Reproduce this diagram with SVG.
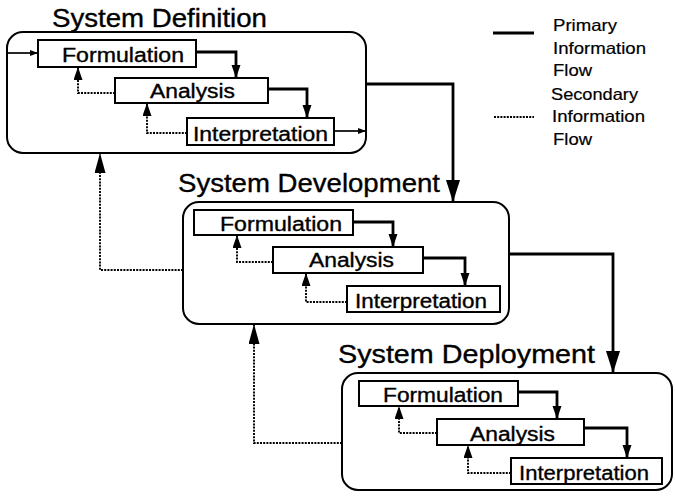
<svg xmlns="http://www.w3.org/2000/svg" width="675" height="497" viewBox="0 0 675 497">
<style>
  text { font-family: "Liberation Sans", Arial, sans-serif; fill: #000; stroke: #000; stroke-width: 0.35; }
  .title { font-size: 25px; }
  .lbl { font-size: 20px; }
  .leg { font-size: 16.5px; stroke-width: 0.2; }
  .panel { fill: none; stroke: #000; stroke-width: 2; }
  .box { fill: #fff; stroke: #000; stroke-width: 2; }
  .prim { fill: none; stroke: #000; stroke-width: 2.8; }
  .thin { fill: none; stroke: #000; stroke-width: 1.7; }
  .sec { fill: none; stroke: #000; stroke-width: 1.9; stroke-dasharray: 2 1.2; }
</style>
<defs>
  <marker id="ah" markerUnits="userSpaceOnUse" markerWidth="14" markerHeight="10" refX="13" refY="4.5" orient="auto">
    <path d="M0,0 L13,4.5 L0,9 z" fill="#000"/>
  </marker>
  <marker id="tiny" markerUnits="userSpaceOnUse" markerWidth="9" markerHeight="7" refX="8" refY="3" orient="auto">
    <path d="M0,0 L8,3 L0,6 z" fill="#000"/>
  </marker>
  <marker id="big" markerUnits="userSpaceOnUse" markerWidth="23" markerHeight="15" refX="22" refY="7" orient="auto">
    <path d="M0,0 L22,7 L0,14 z" fill="#000"/>
  </marker>
  <marker id="bigs" markerUnits="userSpaceOnUse" markerWidth="21" markerHeight="12" refX="20" refY="5.5" orient="auto">
    <path d="M0,0 L20,5.5 L0,11 z" fill="#000"/>
  </marker>
</defs>

<g id="system-definition">
  <rect class="panel" x="7" y="32" width="359" height="121" rx="16"/>
  <text class="title" x="52" y="27" textLength="215" lengthAdjust="spacingAndGlyphs">System Definition</text>
</g>
<g id="def-formulation">
  <rect class="box" x="38" y="40" width="158" height="27"/>
  <text class="lbl" x="62" y="62" textLength="122" lengthAdjust="spacingAndGlyphs">Formulation</text>
</g>
<g id="def-analysis">
  <rect class="box" x="115" y="78" width="153" height="25"/>
  <text class="lbl" x="150" y="98" textLength="85" lengthAdjust="spacingAndGlyphs">Analysis</text>
</g>
<g id="def-interpretation">
  <rect class="box" x="187" y="118" width="147" height="27"/>
  <text class="lbl" x="193" y="141" textLength="135" lengthAdjust="spacingAndGlyphs">Interpretation</text>
</g>

<g id="system-development">
  <rect class="panel" x="183" y="202" width="326" height="122" rx="16"/>
  <text class="title" x="178" y="192" textLength="262" lengthAdjust="spacingAndGlyphs">System Development</text>
</g>
<g id="dev-formulation">
  <rect class="box" x="194" y="210" width="159" height="25"/>
  <text class="lbl" x="220" y="231" textLength="122" lengthAdjust="spacingAndGlyphs">Formulation</text>
</g>
<g id="dev-analysis">
  <rect class="box" x="273" y="247" width="150" height="26"/>
  <text class="lbl" x="309" y="267" textLength="85" lengthAdjust="spacingAndGlyphs">Analysis</text>
</g>
<g id="dev-interpretation">
  <rect class="box" x="347" y="286" width="153" height="26"/>
  <text class="lbl" x="355" y="308" textLength="132" lengthAdjust="spacingAndGlyphs">Interpretation</text>
</g>

<g id="system-deployment">
  <rect class="panel" x="342" y="373" width="330" height="117" rx="16"/>
  <text class="title" x="338" y="363" textLength="257" lengthAdjust="spacingAndGlyphs">System Deployment</text>
</g>
<g id="dep-formulation">
  <rect class="box" x="359" y="381" width="159" height="25"/>
  <text class="lbl" x="383" y="402" textLength="120" lengthAdjust="spacingAndGlyphs">Formulation</text>
</g>
<g id="dep-analysis">
  <rect class="box" x="437" y="419" width="147" height="26"/>
  <text class="lbl" x="470" y="441" textLength="85" lengthAdjust="spacingAndGlyphs">Analysis</text>
</g>
<g id="dep-interpretation">
  <rect class="box" x="511" y="458" width="151" height="26"/>
  <text class="lbl" x="519" y="480" textLength="130" lengthAdjust="spacingAndGlyphs">Interpretation</text>
</g>

<g id="legend">
  <path class="prim" d="M493,33 H534" stroke-width="3.2"/>
  <path class="sec" d="M494,117 H534" stroke-width="1.2"/>
  <text class="leg" x="553" y="31" textLength="64" lengthAdjust="spacingAndGlyphs">Primary</text>
  <text class="leg" x="553" y="54" textLength="93" lengthAdjust="spacingAndGlyphs">Information</text>
  <text class="leg" x="553" y="76" textLength="39" lengthAdjust="spacingAndGlyphs">Flow</text>
  <text class="leg" x="551" y="100" textLength="87" lengthAdjust="spacingAndGlyphs">Secondary</text>
  <text class="leg" x="552" y="122" textLength="93" lengthAdjust="spacingAndGlyphs">Information</text>
  <text class="leg" x="553" y="145" textLength="39" lengthAdjust="spacingAndGlyphs">Flow</text>
</g>

<g id="connectors">
  <path class="thin" d="M7,53 H38" marker-end="url(#tiny)"/>
  <path class="prim" d="M196,52 H236 V78" marker-end="url(#ah)"/>
  <path class="prim" d="M268,89 H307 V118" marker-end="url(#ah)"/>
  <path class="thin" d="M334,131 H366" marker-end="url(#tiny)"/>
  <path class="sec" d="M115,93 H78 V67" marker-end="url(#ah)"/>
  <path class="sec" d="M187,133 H147 V103" marker-end="url(#ah)"/>
  <path class="prim" d="M366,84 H453 V202" marker-end="url(#big)"/>
  <path class="prim" d="M353,222 H393 V247" marker-end="url(#ah)"/>
  <path class="prim" d="M423,258 H465 V286" marker-end="url(#ah)"/>
  <path class="sec" d="M273,262 H237 V235" marker-end="url(#ah)"/>
  <path class="sec" d="M347,302 H306 V273" marker-end="url(#ah)"/>
  <path class="prim" d="M509,254 H613 V373" marker-end="url(#big)"/>
  <path class="prim" d="M518,392 H557 V419" marker-end="url(#ah)"/>
  <path class="prim" d="M584,428 H627 V458" marker-end="url(#ah)"/>
  <path class="sec" d="M437,433 H399 V406" marker-end="url(#ah)"/>
  <path class="sec" d="M511,473 H468 V445" marker-end="url(#ah)"/>
  <path class="sec" d="M183,270 H100 V153" marker-end="url(#bigs)"/>
  <path class="sec" d="M342,443 H254 V324" marker-end="url(#bigs)"/>
</g>
</svg>
